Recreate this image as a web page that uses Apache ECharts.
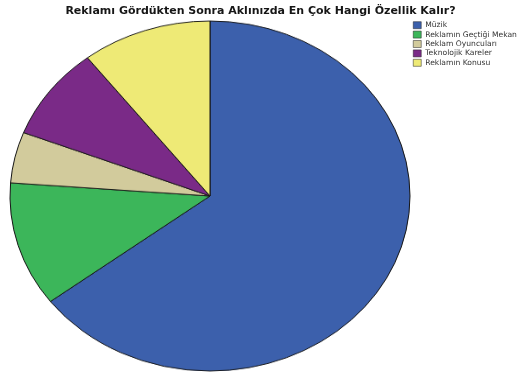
<!DOCTYPE html>
<html>
<head>
<meta charset="utf-8">
<script src="https://cdn.jsdelivr.net/npm/echarts@6/dist/echarts.min.js"></script>
<style>
  html, body { margin: 0; padding: 0; background: #fff; overflow: hidden; }
  #wrap { position: relative; width: 521px; height: 373px; overflow: hidden; }
  /* the pie is drawn as a circle and squashed vertically into an ellipse */
  #pie { position: absolute; left: 0; top: 0; width: 521px; height: 430px;
         transform: scaleY(0.875); transform-origin: 0 0; }
  #labels { position: absolute; left: 0; top: 0; width: 521px; height: 373px; }
</style>
</head>
<body>
<div id="wrap">
  <div id="pie"></div>
  <div id="labels"></div>
</div>
<script>
const titleText = 'Reklamı Gördükten Sonra Aklınızda En Çok Hangi Özellik Kalır?';
const categories = ['Müzik', 'Reklamın Geçtiği Mekan', 'Reklam Oyuncuları', 'Teknolojik Kareler', 'Reklamın Konusu'];
const values = [64.7, 11.5, 4.7, 8.6, 10.5];
const colors = ['#3c60ac', '#3cb65a', '#d2cb9c', '#7a2a87', '#eeea76'];

const pieData = categories.map((name, i) => ({ name, value: values[i] }));

const pieChart = echarts.init(document.getElementById('pie'), null, { renderer: 'canvas' });
pieChart.setOption({
  animation: false,
  color: colors,
  series: [{
    type: 'pie',
    center: [210, 224],
    radius: 200,
    startAngle: 90,
    clockwise: true,
    silent: true,
    label: { show: false },
    labelLine: { show: false },
    itemStyle: { borderColor: '#151515', borderWidth: 1 },
    data: pieData
  }]
});

const labelChart = echarts.init(document.getElementById('labels'), null, { renderer: 'canvas' });
labelChart.setOption({
  animation: false,
  color: colors,
  title: {
    text: titleText,
    left: 'center',
    top: 1,
    textStyle: { fontFamily: 'DejaVu Sans', fontSize: 11, fontWeight: 'bold', color: '#161616' }
  },
  legend: {
    orient: 'vertical',
    left: 408,
    top: 16,
    itemWidth: 8,
    itemHeight: 7,
    itemGap: 1,
    icon: 'rect',
    selectedMode: false,
    itemStyle: { borderColor: '#222', borderWidth: 0.5 },
    textStyle: { fontFamily: 'DejaVu Sans', fontSize: 7.6, lineHeight: 8.4, color: '#333', padding: [0, 0, 0, -1] },
    data: categories
  },
  series: [{
    type: 'pie',
    radius: [0, 0],
    center: [-100, -100],
    silent: true,
    label: { show: false },
    labelLine: { show: false },
    data: pieData
  }]
});
</script>
</body>
</html>
